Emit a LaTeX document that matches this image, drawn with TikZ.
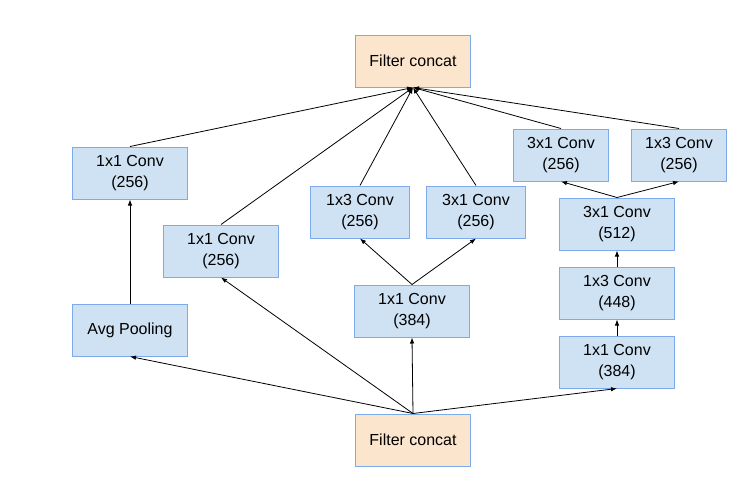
\documentclass[tikz,border=0pt]{standalone}
\usepackage{fontspec}
\setmainfont{Liberation Sans}
\definecolor{convfill}{RGB}{207,226,243}
\definecolor{concatfill}{RGB}{252,229,205}
\definecolor{boxline}{RGB}{125,170,235}
\usetikzlibrary{arrows.meta, positioning}

\begin{document}
\begin{tikzpicture}[
        x=1pt, y=-1pt,
        conv/.style={draw=boxline, fill=convfill, line width=1pt, inner sep=2pt,
                     minimum width=115pt, minimum height=52pt, font=\fontsize{16}{21}\selectfont, align=center},
        concat/.style={conv, fill=concatfill},
        arr/.style={-{Latex[length=6pt,width=4.5pt]}, line width=0.8pt, black}
      ]
        \useasboundingbox (0,0) rectangle (747,490);
        % inputs and outputs
        \node[concat] (top) at (413,61) {Filter concat};
        \node[concat] (bot) at (413,440) {Filter concat};
        % pooling branch
        \node[conv] (pool) at (130,330) {Avg Pooling};
        \node[conv] (poolconv) at (130,173) {1x1 Conv\\(256)};
        % single 1x1 branch
        \node[conv] (single) at (221,251) {1x1 Conv\\(256)};
        % 3x3 split branch
        \node[conv] (midred) at (412,311) {1x1 Conv\\(384)};
        \node[conv, minimum width=99pt] (midA) at (360,212) {1x3 Conv\\(256)};
        \node[conv, minimum width=99pt] (midB) at (476,212) {3x1 Conv\\(256)};
        % 5x5 split branch
        \node[conv] (rred) at (617,362) {1x1 Conv\\(384)};
        \node[conv] (rmid) at (617,293) {1x3 Conv\\(448)};
        \node[conv] (rtop) at (617,224) {3x1 Conv\\(512)};
        \node[conv, minimum width=95pt] (rA) at (561,155) {3x1 Conv\\(256)};
        \node[conv, minimum width=95pt] (rB) at (679,155) {1x3 Conv\\(256)};

        \draw[arr] (bot.north) -- (pool.south);
        \draw[arr] (bot.north) -- (single.south);
        \draw[arr] (bot.north) -- (midred.south);
        \draw[arr] (bot.north) -- (rred.south);
        \draw[arr] (pool) -- (poolconv);
        \draw[arr] (midred.north) -- (midA.south);
        \draw[arr] (midred.north) -- (midB.south);
        \draw[arr] (rred) -- (rmid);
        \draw[arr] (rmid) -- (rtop);
        \draw[arr] (rtop.north) -- (rA.south);
        \draw[arr] (rtop.north) -- (rB.south);
        \foreach \src in {poolconv, single, midA, midB, rA, rB}
          \draw[arr] (\src.north) -- (top.south);
      \end{tikzpicture}
\end{document}
